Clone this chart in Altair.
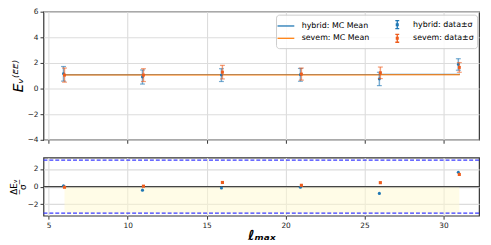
import altair as alt
import pandas as pd

# ---- data ----
ell = [6, 11, 16, 21, 26, 31]
hyb_val = [1.15, 0.90, 1.05, 1.07, 0.75, 1.88]
hyb_sig = [0.57, 0.55, 0.50, 0.50, 0.52, 0.45]
sev_val = [1.05, 1.05, 1.28, 1.13, 1.23, 1.65]
sev_sig = [0.55, 0.50, 0.53, 0.47, 0.45, 0.38]
hyb_mc = [1.09, 1.10, 1.10, 1.10, 1.11, 1.17]
sev_mc = [1.06, 1.06, 1.07, 1.07, 1.08, 1.13]
sev_mc_spread = [0.06, 0.06, 0.06, 0.06, 0.06, 0.06]
hyb_res = [0.10, -0.40, -0.15, -0.07, -0.77, 1.63]
sev_res = [-0.07, 0.05, 0.47, 0.15, 0.45, 1.38]

x_ticks = [5, 10, 15, 20, 25, 30]
top_y_ticks = [-4, -2, 0, 2, 4, 6]
bot_y_ticks = [-2, 0, 2]
band_ell = [6, 31]
band_res = [-3, 0]
limit_res = [-3, 3]
zero_res = [0]

series = ["hybrid: MC Mean", "sevem: MC Mean", "hybrid: data±σ", "sevem: data±σ"]
BLUE = "#1f77b4"
ORANGE = "#ff7f0e"
RED_OR = "#ee5c1c"
series_colors = [BLUE, ORANGE, BLUE, RED_OR]
line_path = "M-1.42,0H1.42"
err_path = ("M0,-0.67V0.67M-0.33,-0.67H0.33M-0.33,0.67H0.33"
            "M-0.15,-0.15H0.15V0.15H-0.15Z")
series_shapes = [line_path, line_path, err_path, err_path]

# ---- tables ----
mc = pd.DataFrame({
    "ell": ell, "hyb_mc": hyb_mc, "sev_mc": sev_mc,
    "sev_lo": [m - s for m, s in zip(sev_mc, sev_mc_spread)],
    "sev_hi": [m + s for m, s in zip(sev_mc, sev_mc_spread)],
})
hyb = pd.DataFrame({"ell": ell, "val": hyb_val,
                    "lo": [v - s for v, s in zip(hyb_val, hyb_sig)],
                    "hi": [v + s for v, s in zip(hyb_val, hyb_sig)],
                    "res": hyb_res})
sev = pd.DataFrame({"ell": ell, "val": sev_val,
                    "lo": [v - s for v, s in zip(sev_val, sev_sig)],
                    "hi": [v + s for v, s in zip(sev_val, sev_sig)],
                    "res": sev_res})
leg = pd.DataFrame({"series": series, "ell": [ell[0]] * 4, "val": [hyb_val[0]] * 4})
band = pd.DataFrame({"x": [band_ell[0]], "x2": [band_ell[1]],
                     "y": [band_res[0]], "y2": [band_res[1]]})
limits = pd.DataFrame({"y": limit_res})
zero = pd.DataFrame({"y": zero_res})

FONT = "DejaVu Sans"
W = 442
xscale = alt.Scale(domain=[4.67, 32.25], nice=False, zero=False)
top_yscale = alt.Scale(domain=[-4, 6], nice=False, zero=False)
bot_yscale = alt.Scale(domain=[-3.3, 3.3], nice=False, zero=False)

x_top = alt.X("ell:Q", scale=xscale,
              axis=alt.Axis(values=x_ticks, tickCount=20, labels=False, title=None,
                            labelOverlap=False))
y_top_axis = alt.Axis(values=top_y_ticks, tickCount=20, format="d", title="Eᵥ⁽ᴱᴱ⁾",
                      titleFontSize=14, titleFontStyle="italic",
                      titleFontWeight="normal", titlePadding=2,
                      labelOverlap=False, labelBound=False)
y_bot_axis = alt.Axis(values=bot_y_ticks, tickCount=20, format="d",
                      title=["ΔEᵥ", "‾σ‾"], titleFontSize=9,
                      titleLineHeight=9, titleFontWeight="normal",
                      titlePadding=0, labelOverlap=False, labelBound=False)

# ---- top panel ----
band_top = alt.Chart(mc).mark_area(interpolate="step-after", color=ORANGE,
                                    opacity=0.3).encode(
    x=x_top, y=alt.Y("sev_lo:Q", scale=top_yscale, axis=y_top_axis), y2="sev_hi:Q")
hyb_line = alt.Chart(mc).mark_line(interpolate="step-after", color=BLUE,
                                   opacity=0.75, strokeWidth=1.2).encode(
    x="ell:Q", y="hyb_mc:Q")
sev_line = alt.Chart(mc).mark_line(interpolate="step-after", color=ORANGE,
                                   opacity=0.8, strokeWidth=1.3).encode(
    x="ell:Q", y="sev_mc:Q")


def err_layers(df, color, dx, shape):
    rule = alt.Chart(df).mark_rule(color=color, opacity=0.6, strokeWidth=1.5,
                                   xOffset=dx).encode(
        x="ell:Q", y="lo:Q", y2="hi:Q")
    caps = alt.Chart(df).transform_fold(["lo", "hi"], as_=["k", "v"]).mark_tick(
        color=color, opacity=0.6, orient="horizontal", size=5, thickness=1.2,
        xOffset=dx).encode(x="ell:Q", y="v:Q")
    dots = alt.Chart(df).mark_point(color=color, filled=True, opacity=1,
                                    shape=shape, size=9, xOffset=dx).encode(
        x="ell:Q", y="val:Q")
    return [rule, caps, dots]


leg_props = dict(title=None, orient="none", legendX=236, legendY=3, columns=2,
                 symbolOpacity=1, symbolSize=144, symbolStrokeWidth=1.3,
                 labelFontSize=8, labelFont=FONT, labelColor="black",
                 labelLimit=0, labelOffset=9, columnPadding=21, rowPadding=0,
                 padding=3, strokeColor="#cccccc",
                 fillColor="rgba(255,255,255,0.85)", cornerRadius=3)
legend_layer = alt.Chart(leg).mark_point(filled=False, opacity=0).encode(
    x="ell:Q", y="val:Q",
    color=alt.Color("series:N", sort=series,
                    scale=alt.Scale(domain=series, range=series_colors),
                    legend=alt.Legend(**leg_props)),
    shape=alt.Shape("series:N", sort=series,
                    scale=alt.Scale(domain=series, range=series_shapes),
                    legend=alt.Legend(**leg_props)),
)

top = alt.layer(
    band_top, hyb_line, sev_line,
    *err_layers(hyb, BLUE, -1, "circle"),
    *err_layers(sev, RED_OR, 0, "square"),
    legend_layer,
).properties(width=W, height=130)

# ---- bottom panel ----
band_bot = alt.Chart(band).mark_rect(color="#fffad0", opacity=0.5).encode(
    x=alt.X("x:Q", scale=xscale,
            axis=alt.Axis(values=x_ticks, tickCount=20, format="d", title="ℓₘₐₓ",
                          titleFontSize=14, titleFontWeight="bold",
                          titleFontStyle="italic", titlePadding=0,
                          labelOverlap=False)),
    x2="x2:Q",
    y=alt.Y("y:Q", scale=bot_yscale, axis=y_bot_axis), y2="y2:Q")
zero_rule = alt.Chart(zero).mark_rule(color="#444444", strokeWidth=1.5).encode(y="y:Q")
lim_rule = alt.Chart(limits).mark_rule(color="#3b3bff", strokeWidth=1.3,
                                        strokeDash=[4, 2]).encode(y="y:Q")
hyb_pts = alt.Chart(hyb).mark_point(color=BLUE, filled=True, opacity=1, shape="circle",
                                    size=10, xOffset=-1).encode(x="ell:Q", y="res:Q")
sev_pts = alt.Chart(sev).mark_point(color=RED_OR, filled=True, opacity=1, shape="square",
                                    size=10).encode(x="ell:Q", y="res:Q")

bottom = alt.layer(band_bot, zero_rule, lim_rule, hyb_pts, sev_pts).properties(
    width=W, height=59)

chart = alt.vconcat(top, bottom, spacing=12).properties(
    padding={"left": 0, "top": -3, "right": 2, "bottom": 0}
).configure_view(stroke="#333333", strokeWidth=1.2).configure_axis(
    domain=False, grid=True, gridColor="#dcdcdc", gridWidth=1.1,
    tickColor="#333333", tickSize=3.5, labelFontSize=7.5, labelFont=FONT,
    labelColor="#222222", labelPadding=2, titleFont=FONT, titleColor="black",
).configure_axisX(labelFlush=False).configure_axisY(labelFlush=False)

chart.save("out.html", embed_options={"renderer": "svg", "actions": False})
